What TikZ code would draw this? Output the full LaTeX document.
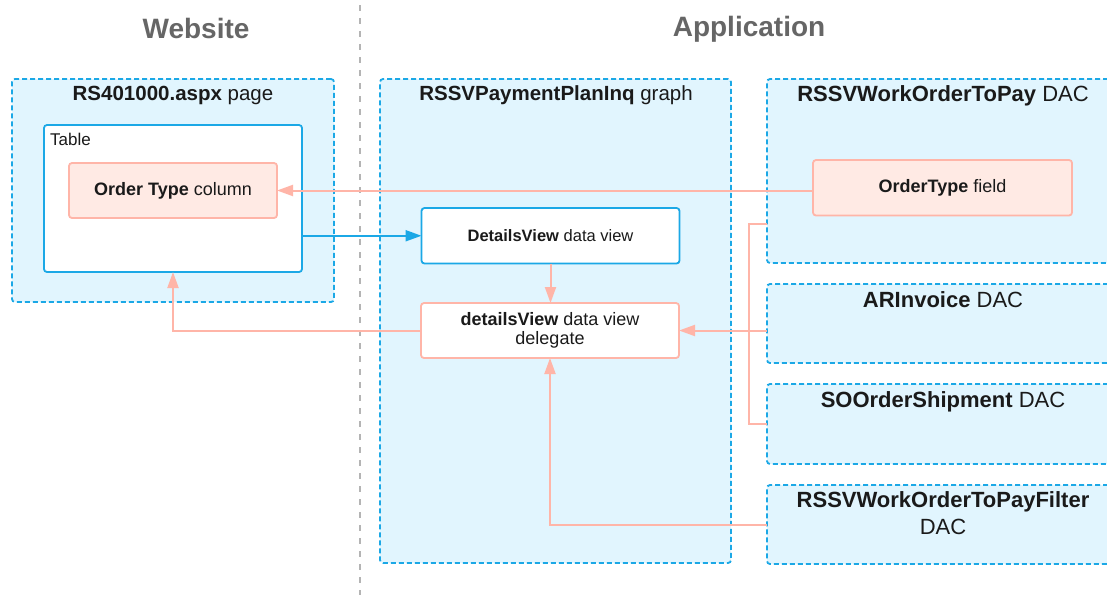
\documentclass[tikz,border=0pt]{standalone}
\usepackage{fontspec}
\setmainfont{Liberation Sans}
\usetikzlibrary{arrows.meta}
\definecolor{cblue}{HTML}{1BA8E6}
\definecolor{cfill}{HTML}{E1F5FE}
\definecolor{salm}{HTML}{FFB5A8}
\definecolor{salmfill}{HTML}{FFEAE4}
\definecolor{hgray}{HTML}{666666}
\definecolor{divgray}{HTML}{B4B4B4}
\definecolor{txt}{HTML}{1A1A1A}
\tikzset{
  boxbase/.style={line width=1.8pt, rounded corners=3pt, inner sep=0pt, outer sep=0pt, anchor=north west, text=txt},
  container/.style={boxbase, draw=cblue, fill=cfill, dash pattern=on 5pt off 3pt},
  whitebox/.style={boxbase, draw=cblue, fill=white},
  salmbox/.style={boxbase, draw=salm, fill=salmfill},
  delbox/.style={boxbase, draw=salm, fill=white},
  ttl/.style={font=\fontsize{20.5}{24}\selectfont, anchor=base, inner sep=0pt, text=txt},
  dactl/.style={font=\fontsize{22}{26.5}\selectfont, anchor=base, inner sep=0pt, text=txt},
  head/.style={font=\fontsize{28}{32}\selectfont\bfseries, text=hgray, anchor=base, inner sep=0pt},
  link/.style={draw=salm, line width=2pt, -{Triangle[length=16pt,width=11pt]}},
  plainlink/.style={draw=salm, line width=2pt},
  bluelink/.style={draw=cblue, line width=2pt, -{Triangle[length=16pt,width=11pt]}}
}
\begin{document}
\begin{tikzpicture}[x=1pt,y=-1pt]
\useasboundingbox (0,0) rectangle (1107,595);
% divider
\coordinate (divtop) at (360,5);
\coordinate (divbot) at (360,595);
\draw[divgray, line width=2.5pt, dash pattern=on 6pt off 7pt] (divtop) -- (divbot);
% headings
\node[head] (hweb) at (196,38.5) {Website};
\node[head] (happ) at (749,36.5) {Application};
% website
\node[container, minimum width=322pt, minimum height=223pt] (web) at (12,79) {};
\node[ttl] (webt) at (173,100) {\textbf{RS401000.aspx} page};
\node[whitebox, minimum width=258pt, minimum height=147pt] (table) at (44,125) {};
\node[font=\fontsize{17}{20}\selectfont, anchor=base west, inner sep=0pt, text=txt] (tablet) at (50,145) {Table};
\node[salmbox, minimum width=208pt, minimum height=55pt, font=\fontsize{18}{21}\selectfont] (col) at (69,163) {\textbf{Order Type} column};
% graph
\node[container, minimum width=351pt, minimum height=484pt] (graph) at (380,79) {};
\node[ttl] (grapht) at (556,100.7) {\textbf{RSSVPaymentPlanInq} graph};
\node[whitebox, minimum width=258pt, minimum height=55.5pt, font=\fontsize{16.5}{20}\selectfont] (dv) at (421.5,208) {\textbf{DetailsView} data view};
\node[delbox, minimum width=258pt, minimum height=55pt, font=\fontsize{18}{19.5}\selectfont, align=center] (del) at (421,303) {\textbf{detailsView} data view\\delegate};
% DACs
\node[container, minimum width=352pt, minimum height=184pt] (wotp) at (767,79) {};
\node[dactl] (wotpt) at (943,101.5) {\textbf{RSSVWorkOrderToPay} DAC};
\node[salmbox, minimum width=259pt, minimum height=55.5pt, font=\fontsize{18}{21}\selectfont] (field) at (813,160) {\textbf{OrderType} field};
\node[container, minimum width=352pt, minimum height=79pt] (ari) at (767,284) {};
\node[dactl] (arit) at (943,307.5) {\textbf{ARInvoice} DAC};
\node[container, minimum width=352pt, minimum height=80pt] (soos) at (767,384) {};
\node[dactl] (soost) at (943,407.5) {\textbf{SOOrderShipment} DAC};
\node[container, minimum width=352pt, minimum height=79pt] (filt) at (767,485) {};
\node[dactl, align=center] (filtt) at (943,534) {\textbf{RSSVWorkOrderToPayFilter}\\DAC};
% connectors
\draw[link] (field.west |- col.east) -- (col.east);
\draw[bluelink] (table.east |- dv.west) -- (dv.west);
\draw[link] (dv.south) -- (dv.south |- del.north);
\draw[link] (del.west) -| (table.south);
\draw[link] (ari.west |- del.east) -- (del.east);
\draw[plainlink] ([yshift=-53pt]wotp.west) -- ++(-18,0) |- (soos.west);
\draw[link] (filt.west) -| (del.south);
\end{tikzpicture}
\end{document}
